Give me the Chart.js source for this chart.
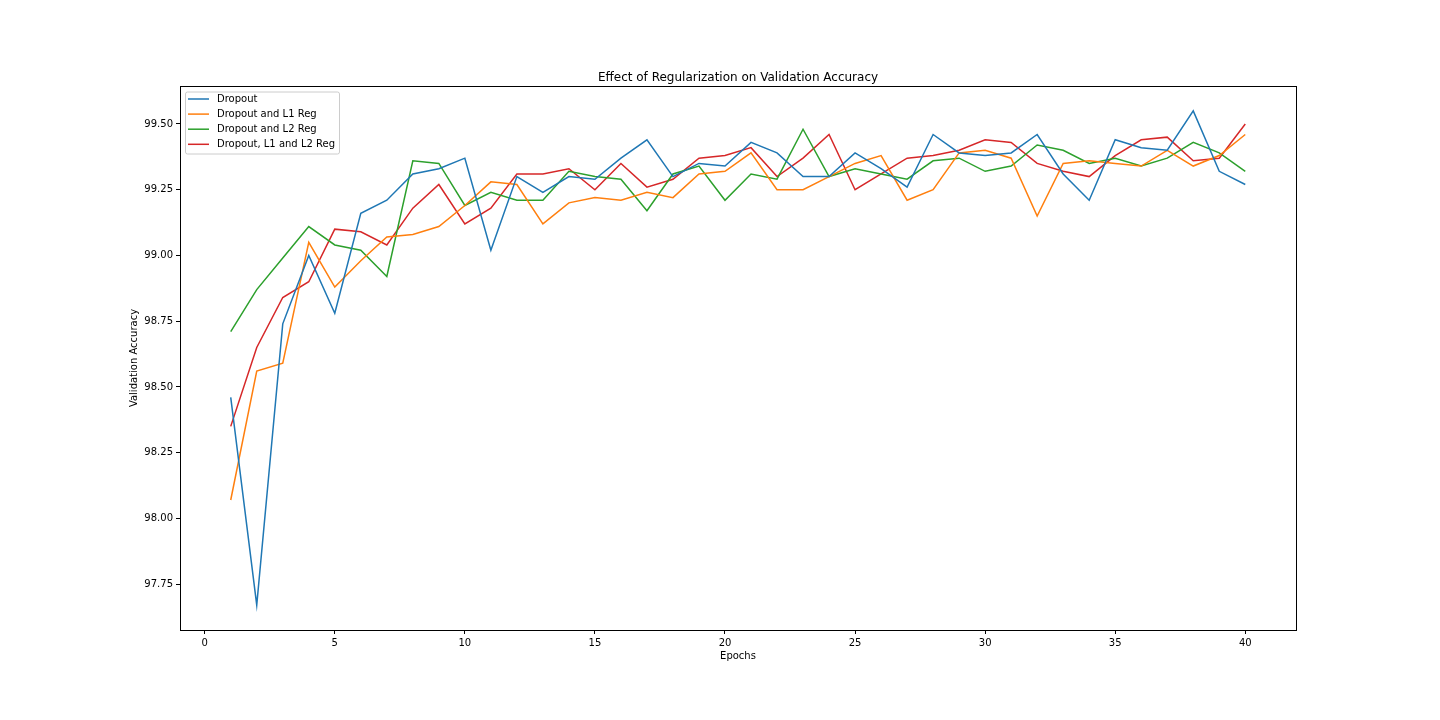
<!DOCTYPE html>
<html lang="en">
<head>
  <meta charset="UTF-8" />
  <title>Effect of Regularization on Validation Accuracy</title>
  <script src="https://cdn.jsdelivr.net/npm/chart.js"></script>
  <style>
    body {
      margin: 0;
      background: #fff;
    }
    #chart {
      display: block;
    }
  </style>
</head>
<body>
  <canvas id="chart" width="1440" height="720"></canvas>

  <script>
    const epochs = Array.from({ length: 40 }, (_, i) => i + 1);

    const dropout = [
      98.46, 97.67, 98.74, 99.00, 98.78, 99.16, 99.21, 99.31, 99.33, 99.37,
      99.02, 99.30, 99.24, 99.30, 99.29, 99.37, 99.44, 99.30, 99.35, 99.34,
      99.43, 99.39, 99.30, 99.30, 99.39, 99.33, 99.26, 99.46, 99.39, 99.38,
      99.39, 99.46, 99.31, 99.21, 99.44, 99.41, 99.40, 99.55, 99.32, 99.27
    ];
    const dropoutL1 = [
      98.07, 98.56, 98.59, 99.05, 98.88, 98.98, 99.07, 99.08, 99.11, 99.19,
      99.28, 99.27, 99.12, 99.20, 99.22, 99.21, 99.24, 99.22, 99.31, 99.32,
      99.39, 99.25, 99.25, 99.30, 99.35, 99.38, 99.21, 99.25, 99.39, 99.40,
      99.37, 99.15, 99.35, 99.36, 99.35, 99.34, 99.40, 99.34, 99.38, 99.46
    ];
    const dropoutL2 = [
      98.71, 98.87, 98.99, 99.11, 99.04, 99.02, 98.92, 99.36, 99.35, 99.19,
      99.24, 99.21, 99.21, 99.32, 99.30, 99.29, 99.17, 99.31, 99.34, 99.21,
      99.31, 99.29, 99.48, 99.30, 99.33, 99.31, 99.29, 99.36, 99.37, 99.32,
      99.34, 99.42, 99.40, 99.35, 99.37, 99.34, 99.37, 99.43, 99.39, 99.32
    ];
    const dropoutL1L2 = [
      98.35, 98.65, 98.84, 98.90, 99.10, 99.09, 99.04, 99.18, 99.27, 99.12,
      99.18, 99.31, 99.31, 99.33, 99.25, 99.35, 99.26, 99.29, 99.37, 99.38,
      99.41, 99.30, 99.37, 99.46, 99.25, 99.31, 99.37, 99.38, 99.40, 99.44,
      99.43, 99.35, 99.32, 99.30, 99.38, 99.44, 99.45, 99.36, 99.37, 99.50
    ];

    const xTicks = [0, 5, 10, 15, 20, 25, 30, 35, 40];
    const yTicks = [97.75, 98.00, 98.25, 98.50, 98.75, 99.00, 99.25, 99.50];

    const seriesNames = ['Dropout', 'Dropout and L1 Reg', 'Dropout and L2 Reg', 'Dropout, L1 and L2 Reg'];
    const seriesColors = ['#1f77b4', '#ff7f0e', '#2ca02c', '#d62728'];
    const seriesData = [dropout, dropoutL1, dropoutL2, dropoutL1L2];

    const FONT = 'DejaVu Sans, sans-serif';

    // frame, titles and legend drawn like matplotlib
    const decorations = {
      id: 'decorations',
      afterDraw(chart) {
        const { ctx, chartArea: a } = chart;
        ctx.save();
        ctx.strokeStyle = '#000';
        ctx.lineWidth = 1;
        ctx.strokeRect(a.left + 0.5, a.top + 0.5, a.right - a.left, a.bottom - a.top);

        ctx.fillStyle = '#000';
        ctx.font = '12px ' + FONT;
        ctx.textAlign = 'center';
        ctx.textBaseline = 'bottom';
        ctx.fillText('Effect of Regularization on Validation Accuracy', (a.left + a.right) / 2, a.top - 2);

        ctx.font = '10px ' + FONT;
        ctx.textBaseline = 'top';
        ctx.fillText('Epochs', (a.left + a.right) / 2, a.bottom + 21);

        ctx.save();
        ctx.translate(a.left - 41, (a.top + a.bottom) / 2);
        ctx.rotate(-Math.PI / 2);
        ctx.textBaseline = 'bottom';
        ctx.fillText('Validation Accuracy', 0, 0);
        ctx.restore();

        // legend
        const lx = a.left + 5, ly = a.top + 5.5, lw = 154, lh = 62;
        ctx.fillStyle = 'rgba(255,255,255,0.8)';
        ctx.strokeStyle = '#cccccc';
        ctx.beginPath();
        ctx.roundRect(lx + 0.5, ly + 0.5, lw, lh, 2);
        ctx.fill();
        ctx.stroke();
        ctx.textAlign = 'left';
        ctx.textBaseline = 'middle';
        chart.data.datasets.forEach((ds, i) => {
          const y = ly + 7.5 + i * 15.1;
          ctx.strokeStyle = ds.borderColor;
          ctx.lineWidth = 1.5;
          ctx.beginPath();
          ctx.moveTo(lx + 3, y);
          ctx.lineTo(lx + 24, y);
          ctx.stroke();
          ctx.fillStyle = '#000';
          ctx.fillText(ds.label, lx + 32, y);
        });
        ctx.restore();
      }
    };

    new Chart(document.getElementById('chart').getContext('2d'), {
      type: 'line',
      data: {
        datasets: seriesNames.map((name, i) => ({
          label: name,
          data: epochs.map((e, j) => ({ x: e, y: seriesData[i][j] })),
          borderColor: seriesColors[i],
          backgroundColor: seriesColors[i],
          borderWidth: 1.5,
          pointRadius: 0,
          fill: false,
          tension: 0
        }))
      },
      options: {
        responsive: false,
        animation: false,
        devicePixelRatio: 1,
        layout: { padding: { left: 0, right: 144, top: 86, bottom: 0 } },
        plugins: {
          legend: { display: false },
          title: { display: false },
          tooltip: { enabled: false }
        },
        scales: {
          x: {
            type: 'linear',
            min: -0.95,
            max: 41.95,
            afterFit: s => { s.height = 90; },
            afterBuildTicks: s => { s.ticks = xTicks.map(v => ({ value: v })); },
            grid: { drawOnChartArea: false, drawTicks: true, tickLength: 4, color: '#000' },
            border: { display: true, color: '#000' },
            ticks: { color: '#000', font: { family: FONT, size: 10 }, padding: 3, maxRotation: 0 }
          },
          y: {
            type: 'linear',
            min: 97.5755,
            max: 99.6445,
            afterFit: s => { s.width = 180; },
            afterBuildTicks: s => { s.ticks = yTicks.map(v => ({ value: v })); },
            grid: { drawOnChartArea: false, drawTicks: true, tickLength: 4, color: '#000' },
            border: { display: true, color: '#000' },
            ticks: {
              color: '#000',
              font: { family: FONT, size: 10 },
              padding: 3,
              callback: v => Number(v).toFixed(2)
            }
          }
        }
      },
      plugins: [decorations]
    });
  </script>
</body>
</html>
